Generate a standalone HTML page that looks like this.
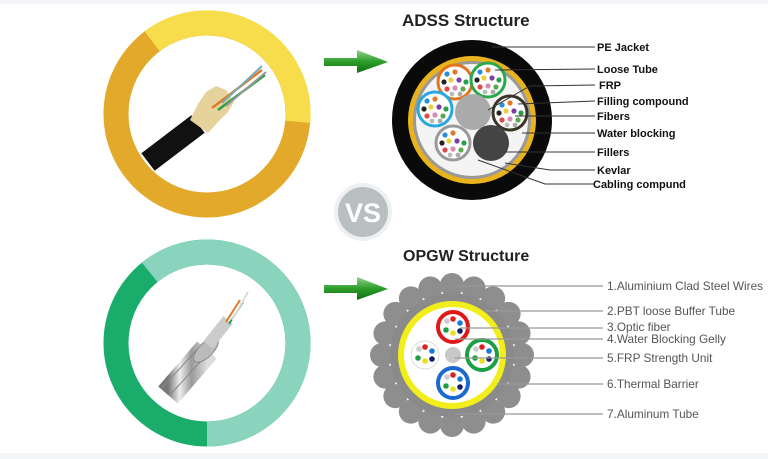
<!DOCTYPE html>
<html><head><meta charset="utf-8"><style>
html,body{margin:0;padding:0;background:#fff;}
svg{display:block;}
text{font-family:"Liberation Sans",sans-serif;}
</style></head><body>
<svg width="768" height="459" viewBox="0 0 768 459" xmlns="http://www.w3.org/2000/svg">
<defs>
<linearGradient id="ag" x1="0" y1="0" x2="0" y2="1">
<stop offset="0" stop-color="#8fd48a"/><stop offset="0.5" stop-color="#2e9e2a"/><stop offset="1" stop-color="#0f6e12"/>
</linearGradient>
<linearGradient id="st" x1="0" y1="0" x2="1" y2="0">
<stop offset="0" stop-color="#777"/><stop offset="0.3" stop-color="#eee"/><stop offset="0.6" stop-color="#999"/><stop offset="1" stop-color="#ddd"/>
</linearGradient>
<g id="fib">
<circle cx="-8" cy="-8" r="2.6" fill="#2a8fd8"/><circle cx="0" cy="-10" r="2.6" fill="#e07a2a"/>
<circle cx="-11" cy="0" r="2.6" fill="#222"/><circle cx="-4" cy="-2" r="2.6" fill="#e8d23a"/>
<circle cx="4" cy="-2" r="2.6" fill="#7a3fa8"/><circle cx="11" cy="0" r="2.6" fill="#2a9e4a"/>
<circle cx="-8" cy="7" r="2.6" fill="#e04a4a"/><circle cx="0" cy="6" r="2.6" fill="#d88ab0"/>
<circle cx="8" cy="7" r="2.6" fill="#5aa84a"/><circle cx="-3" cy="12" r="2.4" fill="#bbb"/><circle cx="5" cy="12" r="2.4" fill="#aaa"/>
</g>
<g id="of">
<circle cx="-6" cy="-6" r="2.8" fill="#ccc"/><circle cx="0" cy="-8" r="2.8" fill="#e02020"/><circle cx="7" cy="-4" r="2.8" fill="#1a7ad8"/>
<circle cx="-7" cy="3" r="2.8" fill="#1aa040"/><circle cx="0" cy="6" r="2.8" fill="#e8e020"/><circle cx="7" cy="4" r="2.8" fill="#102060"/>
</g>
</defs>
<rect x="0" y="0" width="768" height="4" fill="#f3f5f8"/>
<rect x="0" y="453" width="768" height="6" fill="#f3f5f8"/>

<!-- yellow ring -->
<circle cx="207" cy="114" r="91" fill="none" stroke="#e2a92b" stroke-width="25"/>
<path d="M152.2 41.3 A91 91 0 0 1 297.7 121.9" fill="none" stroke="#f7dd4c" stroke-width="25"/>
<!-- ADSS cable -->
<line x1="148" y1="162" x2="198" y2="124" stroke="#111" stroke-width="22" stroke-linecap="butt"/>
<path d="M190 120 L198 104 L206 92 L216 86 L226 90 L234 102 L228 112 L218 122 L208 133 Z" fill="#e6d39c"/>
<line x1="212" y1="108" x2="262" y2="70" stroke="#e07a2a" stroke-width="2.5"/>
<line x1="218" y1="110" x2="265" y2="75" stroke="#2a9e4a" stroke-width="2.5"/>
<line x1="222" y1="103" x2="262" y2="66" stroke="#7ab" stroke-width="2"/>
<line x1="226" y1="106" x2="266" y2="72" stroke="#999" stroke-width="2"/>

<!-- green ring -->
<circle cx="207" cy="343" r="91" fill="none" stroke="#1aac6b" stroke-width="25"/>
<path d="M149.7 272.3 A91 91 0 1 1 207 434" fill="none" stroke="#8ad3bd" stroke-width="25"/>
<!-- OPGW cable -->
<line x1="168" y1="395" x2="207" y2="350" stroke="url(#st)" stroke-width="26"/>
<line x1="162" y1="388" x2="203" y2="343" stroke="#888" stroke-width="1"/>
<line x1="170" y1="395" x2="211" y2="350" stroke="#888" stroke-width="1"/>
<ellipse cx="206" cy="350" rx="16" ry="7" transform="rotate(-45 206 350)" fill="#bbb" stroke="#888"/>
<line x1="208" y1="345" x2="228" y2="320" stroke="#ccc" stroke-width="12"/>
<line x1="226" y1="322" x2="240" y2="300" stroke="#e07a2a" stroke-width="2"/>
<line x1="229" y1="324" x2="243" y2="302" stroke="#2a9e4a" stroke-width="2"/>
<line x1="232" y1="320" x2="248" y2="292" stroke="#ddd" stroke-width="2"/>

<!-- VS -->
<circle cx="363" cy="212" r="29" fill="#eef0f1"/>
<circle cx="363" cy="212" r="25" fill="#b9bec1"/>
<text x="363" y="222" text-anchor="middle" font-size="27" font-weight="bold" fill="#fff">VS</text>

<!-- arrows -->
<path d="M324 58 L357 58 L357 50 L388 62 L357 73 L357 66 L324 66 Z" fill="url(#ag)"/>
<path d="M324 285 L357 285 L357 277 L388 289 L357 300 L357 293 L324 293 Z" fill="url(#ag)"/>

<!-- ADSS -->
<text x="402" y="26" font-size="17" font-weight="bold" fill="#222">ADSS Structure</text>
<circle cx="472" cy="120" r="80" fill="#0a0a0a"/>
<circle cx="472" cy="120" r="64" fill="#e8b31c"/>
<circle cx="472" cy="120" r="59" fill="#999"/>
<circle cx="472" cy="120" r="56" fill="#f4f4f4"/>
<circle cx="455" cy="82" r="17" fill="#fff" stroke="#e2741e" stroke-width="3"/><use href="#fib" x="455" y="82"/>
<circle cx="488" cy="80" r="17" fill="#fff" stroke="#2aa84a" stroke-width="3"/><use href="#fib" x="488" y="80"/>
<circle cx="435" cy="109" r="17" fill="#fff" stroke="#28a8e0" stroke-width="3"/><use href="#fib" x="435" y="109"/>
<circle cx="510" cy="113" r="17" fill="#fff" stroke="#3a3528" stroke-width="3"/><use href="#fib" x="510" y="113"/>
<circle cx="453" cy="143" r="17" fill="#fff" stroke="#999" stroke-width="3"/><use href="#fib" x="453" y="143"/>
<circle cx="473" cy="112" r="18" fill="#aaa"/>
<circle cx="491" cy="143" r="18" fill="#444"/>
<g stroke="#333" stroke-width="1" fill="none">
<path d="M492 47 L595 47"/><path d="M495 70 L595 69"/><path d="M488 110 L530 86 L595 85"/>
<path d="M518 104 L595 101"/><path d="M515 116 L595 116"/><path d="M522 133 L595 133"/>
<path d="M505 152 L595 152"/><path d="M505 163 L550 170 L595 170"/><path d="M478 160 L545 184 L595 184"/>
</g>
<g font-size="11" font-weight="bold" fill="#111">
<text x="597" y="51">PE Jacket</text><text x="597" y="73">Loose Tube</text><text x="599" y="89">FRP</text>
<text x="597" y="105">Filling compound</text><text x="597" y="120">Fibers</text><text x="597" y="137">Water blocking</text>
<text x="597" y="156">Fillers</text><text x="597" y="174">Kevlar</text><text x="593" y="188">Cabling compund</text>
</g>

<!-- OPGW -->
<text x="403" y="261" font-size="16" font-weight="bold" fill="#222">OPGW Structure</text>
<g transform="translate(452,355)" fill="#8e8e8e">
<circle cx="70" cy="0" r="12" transform="rotate(0)"/><circle cx="70" cy="0" r="12" transform="rotate(18)"/>
<circle cx="70" cy="0" r="12" transform="rotate(36)"/><circle cx="70" cy="0" r="12" transform="rotate(54)"/>
<circle cx="70" cy="0" r="12" transform="rotate(72)"/><circle cx="70" cy="0" r="12" transform="rotate(90)"/>
<circle cx="70" cy="0" r="12" transform="rotate(108)"/><circle cx="70" cy="0" r="12" transform="rotate(126)"/>
<circle cx="70" cy="0" r="12" transform="rotate(144)"/><circle cx="70" cy="0" r="12" transform="rotate(162)"/>
<circle cx="70" cy="0" r="12" transform="rotate(180)"/><circle cx="70" cy="0" r="12" transform="rotate(198)"/>
<circle cx="70" cy="0" r="12" transform="rotate(216)"/><circle cx="70" cy="0" r="12" transform="rotate(234)"/>
<circle cx="70" cy="0" r="12" transform="rotate(252)"/><circle cx="70" cy="0" r="12" transform="rotate(270)"/>
<circle cx="70" cy="0" r="12" transform="rotate(288)"/><circle cx="70" cy="0" r="12" transform="rotate(306)"/>
<circle cx="70" cy="0" r="12" transform="rotate(324)"/><circle cx="70" cy="0" r="12" transform="rotate(342)"/>
<circle cx="0" cy="0" r="62" fill="#8a8a8a"/>
<circle cx="0" cy="0" r="54" fill="#f2ee1a"/>
<circle cx="0" cy="0" r="48" fill="#fff"/>
</g>
<circle cx="425" cy="355" r="14" fill="#fff" stroke="#ddd" stroke-width="1"/><use href="#of" x="425" y="355"/>
<circle cx="453" cy="327" r="15" fill="#fff" stroke="#e01818" stroke-width="4"/><use href="#of" x="453" y="327"/>
<circle cx="482" cy="355" r="15" fill="#fff" stroke="#1aa040" stroke-width="4"/><use href="#of" x="482" y="355"/>
<circle cx="453" cy="383" r="15" fill="#fff" stroke="#1a6ad0" stroke-width="4"/><use href="#of" x="453" y="383"/>
<circle cx="453" cy="355" r="8" fill="#c8c8c8"/>
<g stroke="#999" stroke-width="1.2">
<line x1="455" y1="286" x2="603" y2="286"/><line x1="485" y1="311" x2="603" y2="311"/>
<line x1="460" y1="328" x2="603" y2="328"/><line x1="455" y1="339" x2="603" y2="339"/>
<line x1="455" y1="358" x2="603" y2="358"/><line x1="497" y1="384" x2="603" y2="384"/>
<line x1="455" y1="414" x2="603" y2="414"/>
</g>
<g font-size="11.8" fill="#555">
<text x="607" y="290">1.Aluminium Clad Steel Wires</text><text x="607" y="315">2.PBT loose Buffer Tube</text>
<text x="607" y="331">3.Optic fiber</text><text x="607" y="343">4.Water Blocking Gelly</text>
<text x="607" y="362">5.FRP Strength Unit</text><text x="607" y="388">6.Thermal Barrier</text>
<text x="607" y="418">7.Aluminum Tube</text>
</g>
</svg>
</body></html>
